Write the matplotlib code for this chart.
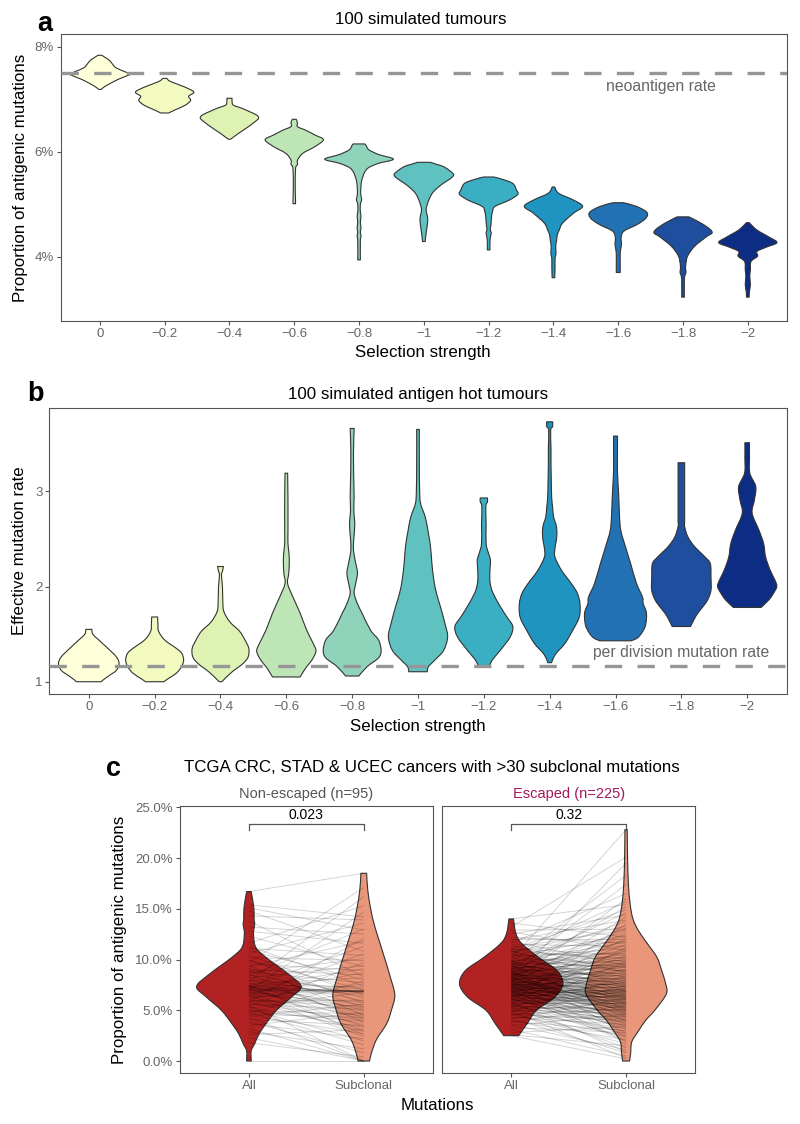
import numpy as np
import matplotlib
matplotlib.use("Agg")
import matplotlib.pyplot as plt
from matplotlib.collections import LineCollection
from matplotlib.path import Path
from matplotlib.patches import PathPatch

plt.rcParams["font.family"] = ["Liberation Sans", "DejaVu Sans"]

# --- shared categories ---------------------------------------------------
sel_labels = ["0", "\u22120.2", "\u22120.4", "\u22120.6", "\u22120.8", "\u22121",
              "\u22121.2", "\u22121.4", "\u22121.6", "\u22121.8", "\u22122"]
sel_colors = ["#FFFFD9", "#F3FABF", "#DEF2B4", "#BDE5B5", "#8FD3BB", "#5FC1C0",
              "#3AAEC3", "#1F94C0", "#2171B3", "#1F4E9E", "#0D2C84"]

# --- panel a: violin outlines (value %, half width in category units) ----
neo_rate = 7.5
a_prof_y = [
    [7.84, 7.80, 7.74, 7.68, 7.60, 7.53, 7.48, 7.44, 7.38, 7.31, 7.24, 7.19],
    [7.40, 7.34, 7.24, 7.14, 7.06, 6.98, 6.89, 6.81, 6.74],
    [7.02, 6.96, 6.89, 6.83, 6.76, 6.70, 6.64, 6.56, 6.46, 6.36, 6.27, 6.24],
    [6.62, 6.55, 6.48, 6.41, 6.32, 6.23, 6.10, 5.97, 5.84, 5.76, 5.68, 5.30, 5.05, 5.01],
    [6.15, 6.12, 6.04, 5.95, 5.86, 5.78, 5.70, 5.62, 5.53, 5.45, 5.35, 5.20, 5.09,
     5.00, 4.85, 4.77, 4.66, 4.55, 4.47, 4.39, 4.30, 3.94],
    [5.80, 5.76, 5.72, 5.64, 5.56, 5.48, 5.40, 5.30, 5.21, 5.09, 4.98, 4.89, 4.80,
     4.70, 4.58, 4.45, 4.29],
    [5.52, 5.48, 5.40, 5.27, 5.19, 5.08, 4.96, 4.86, 4.76, 4.60, 4.52, 4.45, 4.36,
     4.25, 4.13],
    [5.33, 5.21, 5.08, 4.96, 4.83, 4.64, 4.51, 4.42, 4.32, 4.20, 4.06, 3.97, 3.80, 3.60],
    [5.03, 4.96, 4.85, 4.74, 4.62, 4.49, 4.37, 4.24, 4.12, 4.03, 3.85, 3.70],
    [4.76, 4.68, 4.56, 4.46, 4.38, 4.20, 4.01, 3.82, 3.70, 3.62, 3.50, 3.23],
    [4.65, 4.51, 4.38, 4.27, 4.18, 4.10, 4.01, 3.91, 3.75, 3.62, 3.47, 3.34, 3.23],
]
a_prof_w = [
    [0.03, 0.08, 0.15, 0.19, 0.25, 0.38, 0.46, 0.40, 0.28, 0.17, 0.07, 0.02],
    [0.03, 0.09, 0.30, 0.45, 0.37, 0.40, 0.32, 0.18, 0.06],
    [0.04, 0.04, 0.06, 0.19, 0.32, 0.42, 0.45, 0.38, 0.27, 0.15, 0.05, 0.02],
    [0.03, 0.05, 0.05, 0.18, 0.32, 0.45, 0.32, 0.13, 0.05, 0.05, 0.02, 0.015, 0.02, 0.015],
    [0.09, 0.11, 0.15, 0.30, 0.53, 0.30, 0.15, 0.09, 0.06, 0.04, 0.03, 0.025, 0.04,
     0.02, 0.02, 0.03, 0.02, 0.03, 0.02, 0.03, 0.02, 0.02],
    [0.10, 0.20, 0.30, 0.40, 0.46, 0.40, 0.30, 0.20, 0.13, 0.08, 0.05, 0.035, 0.05,
     0.06, 0.05, 0.035, 0.02],
    [0.08, 0.20, 0.37, 0.43, 0.45, 0.32, 0.10, 0.06, 0.045, 0.035, 0.025, 0.04, 0.025,
     0.02, 0.02],
    [0.02, 0.08, 0.31, 0.45, 0.31, 0.14, 0.09, 0.06, 0.05, 0.035, 0.04, 0.025, 0.025, 0.02],
    [0.08, 0.28, 0.44, 0.43, 0.30, 0.09, 0.045, 0.05, 0.035, 0.03, 0.03, 0.03],
    [0.09, 0.22, 0.38, 0.45, 0.36, 0.18, 0.07, 0.04, 0.045, 0.025, 0.02, 0.02],
    [0.02, 0.14, 0.32, 0.45, 0.28, 0.14, 0.15, 0.05, 0.04, 0.03, 0.04, 0.025, 0.02],
]

# --- panel b: effective mutation rate violins ----------------------------
mut_rate = 1.16
b_prof_y = [
    [1.55, 1.50, 1.44, 1.35, 1.26, 1.19, 1.12, 1.07, 1.02, 1.00],
    [1.68, 1.60, 1.53, 1.44, 1.35, 1.30, 1.23, 1.16, 1.09, 1.03, 1.00],
    [2.21, 2.16, 2.12, 2.00, 1.85, 1.74, 1.63, 1.53, 1.44, 1.35, 1.26, 1.19, 1.10, 1.00],
    [3.19, 2.90, 2.60, 2.45, 2.35, 2.24, 2.13, 2.03, 1.89, 1.72, 1.54, 1.40, 1.32,
     1.23, 1.14, 1.05],
    [3.66, 3.40, 3.10, 2.94, 2.80, 2.65, 2.50, 2.38, 2.26, 2.14, 2.02, 1.93, 1.82,
     1.72, 1.54, 1.44, 1.33, 1.25, 1.16, 1.06],
    [3.65, 3.30, 3.00, 2.87, 2.73, 2.59, 2.42, 2.25, 2.07, 1.93, 1.79, 1.61, 1.47,
     1.33, 1.23, 1.16, 1.105],
    [2.93, 2.89, 2.84, 2.65, 2.45, 2.35, 2.28, 2.20, 2.10, 2.02, 1.93, 1.79, 1.68,
     1.58, 1.47, 1.33, 1.23, 1.16],
    [3.73, 3.68, 3.64, 3.45, 3.29, 3.10, 2.94, 2.83, 2.73, 2.64, 2.56, 2.48, 2.40,
     2.31, 2.17, 2.03, 1.93, 1.82, 1.68, 1.54, 1.40, 1.30, 1.24, 1.20],
    [3.58, 3.40, 3.20, 2.94, 2.75, 2.59, 2.42, 2.24, 2.03, 1.89, 1.82, 1.72, 1.58,
     1.47, 1.43],
    [3.30, 3.10, 2.90, 2.70, 2.63, 2.52, 2.42, 2.31, 2.24, 2.10, 1.96, 1.86, 1.79,
     1.72, 1.65, 1.58],
    [3.51, 3.35, 3.19, 3.05, 2.91, 2.77, 2.59, 2.45, 2.31, 2.17, 2.07, 2.00, 1.93,
     1.86, 1.78],
]
b_prof_w = [
    [0.045, 0.06, 0.15, 0.29, 0.42, 0.46, 0.42, 0.32, 0.22, 0.19],
    [0.045, 0.05, 0.06, 0.15, 0.33, 0.41, 0.44, 0.41, 0.33, 0.20, 0.14],
    [0.045, 0.03, 0.015, 0.03, 0.035, 0.05, 0.14, 0.29, 0.37, 0.43, 0.42, 0.34, 0.17, 0.02],
    [0.02, 0.025, 0.025, 0.025, 0.04, 0.045, 0.035, 0.02, 0.10, 0.21, 0.31, 0.41, 0.45,
     0.39, 0.29, 0.21],
    [0.03, 0.02, 0.025, 0.03, 0.025, 0.04, 0.025, 0.02, 0.05, 0.08, 0.05, 0.03, 0.08,
     0.15, 0.28, 0.40, 0.44, 0.40, 0.23, 0.10],
    [0.02, 0.02, 0.025, 0.04, 0.11, 0.15, 0.19, 0.21, 0.24, 0.28, 0.34, 0.41, 0.45,
     0.39, 0.26, 0.16, 0.14],
    [0.055, 0.055, 0.03, 0.035, 0.035, 0.07, 0.10, 0.095, 0.09, 0.10, 0.14, 0.25, 0.35,
     0.44, 0.40, 0.25, 0.13, 0.08],
    [0.045, 0.045, 0.015, 0.02, 0.02, 0.025, 0.03, 0.045, 0.06, 0.10, 0.11, 0.10, 0.08,
     0.08, 0.18, 0.33, 0.42, 0.46, 0.45, 0.35, 0.23, 0.10, 0.05, 0.03],
    [0.03, 0.03, 0.03, 0.05, 0.06, 0.08, 0.15, 0.23, 0.32, 0.41, 0.42, 0.47, 0.45,
     0.35, 0.24],
    [0.05, 0.05, 0.05, 0.05, 0.05, 0.10, 0.20, 0.36, 0.44, 0.45, 0.45, 0.40, 0.33,
     0.25, 0.19, 0.14],
    [0.035, 0.035, 0.04, 0.13, 0.11, 0.075, 0.18, 0.25, 0.28, 0.35, 0.42, 0.45, 0.40,
     0.33, 0.21],
]

# --- panel c: TCGA paired proportions (%) --------------------------------
groups = ["Non-escaped (n=95)", "Escaped (n=225)"]
group_colors = ["#555555", "#A5175B"]
mut_types = ["All", "Subclonal"]
type_colors = ["#B22222", "#E9967A"]
pvals = ["0.023", "0.32"]

ne_all = [0.0, 1.8, 2.3, 2.6, 2.9, 3.2, 3.5, 3.7, 3.9,
          4.1, 4.3, 4.4, 4.5, 4.6, 4.7, 4.8, 4.9,
          5.0, 5.1, 5.2, 5.3, 5.4, 5.5, 5.6, 5.7, 5.8, 5.9, 5.9,
          6.0, 6.1, 6.2, 6.3, 6.3, 6.4, 6.5, 6.5, 6.6, 6.7, 6.7, 6.8, 6.8, 6.9, 6.9, 7.0,
          7.0, 7.1, 7.1, 7.2, 7.2, 7.2, 7.3, 7.3, 7.3, 7.4, 7.4, 7.5, 7.5, 7.6, 7.7, 7.8, 7.9,
          8.0, 8.1, 8.2, 8.3, 8.4, 8.5, 8.6, 8.7, 8.8, 8.9, 9.0,
          9.1, 9.3, 9.4, 9.6, 9.7, 9.9, 10.0,
          10.2, 10.4, 10.6, 10.9, 11.1, 11.3, 11.6, 12.3, 12.8,
          13.2, 13.8, 14.3, 14.8, 15.1, 15.4, 16.7]
ne_sub = [0.0, 0.4, 0.0, 3.1, 1.2, 0.0, 4.8, 2.2, 0.8,
          3.5, 0.0, 5.6, 2.7, 4.3, 7.9, 1.6, 3.9,
          4.6, 2.0, 6.8, 3.3, 9.7, 0.0, 5.1, 4.0, 12.1, 2.9, 6.0,
          5.4, 3.6, 7.6, 4.4, 6.9, 10.6, 2.4, 5.8, 6.9, 3.0, 8.7, 4.9, 6.9, 14.7, 5.2, 6.9,
          6.9, 4.1, 6.8, 9.1, 6.9, 3.4, 5.5, 6.9, 11.3, 4.6, 6.8, 7.3, 2.6, 8.2, 5.0, 16.2, 6.4,
          7.1, 4.2, 9.4, 5.9, 13.0, 6.6, 3.8, 10.1, 7.7, 5.3, 8.5,
          6.2, 11.8, 4.5, 8.9, 17.1, 7.0, 5.7,
          9.9, 6.5, 13.6, 8.0, 10.4, 7.4, 15.3, 9.3, 11.6,
          12.5, 8.3, 13.9, 10.8, 12.9, 14.2, 18.5]

es_all = [2.5, 2.6, 2.8, 3.1, 3.3, 3.5, 3.6, 3.8, 3.9,
          4.0, 4.1, 4.2, 4.3, 4.3, 4.4, 4.5, 4.6, 4.6, 4.7, 4.8, 4.8, 4.9, 4.9,
          5.0, 5.0, 5.1, 5.1, 5.2, 5.2, 5.3, 5.3, 5.4, 5.4, 5.5, 5.5, 5.5, 5.6, 5.6,
          5.7, 5.7, 5.7, 5.8, 5.8, 5.8, 5.9, 5.9, 5.9, 6.0,
          6.0, 6.0, 6.1, 6.1, 6.1, 6.2, 6.2, 6.2, 6.3, 6.3, 6.3, 6.3, 6.4, 6.4, 6.4,
          6.5, 6.5, 6.5, 6.5, 6.6, 6.6, 6.6, 6.7, 6.7, 6.7, 6.7, 6.8, 6.8, 6.8, 6.8,
          6.9, 6.9, 6.9, 6.9, 7.0, 7.0, 7.0, 7.0,
          7.1, 7.1, 7.1, 7.1, 7.2, 7.2, 7.2, 7.2, 7.3, 7.3, 7.3, 7.3, 7.4, 7.4, 7.4,
          7.4, 7.4, 7.5, 7.5, 7.5, 7.5, 7.6, 7.6, 7.6, 7.6, 7.6, 7.7, 7.7, 7.7, 7.7,
          7.8, 7.8, 7.8, 7.8, 7.9, 7.9, 7.9, 7.9, 8.0, 8.0, 8.0, 8.0,
          8.1, 8.1, 8.1, 8.1, 8.2, 8.2, 8.2, 8.2, 8.3, 8.3, 8.3, 8.3, 8.4, 8.4, 8.4,
          8.4, 8.5, 8.5, 8.5, 8.5, 8.6, 8.6, 8.6, 8.6, 8.7, 8.7, 8.7, 8.7, 8.8, 8.8,
          8.8, 8.9, 8.9, 8.9, 8.9, 9.0, 9.0, 9.0,
          9.1, 9.1, 9.1, 9.2, 9.2, 9.2, 9.3, 9.3, 9.3, 9.4, 9.4, 9.4, 9.5, 9.5, 9.5,
          9.6, 9.6, 9.6, 9.7, 9.7, 9.7, 9.8, 9.8, 9.8, 9.9, 9.9, 10.0, 10.0,
          10.1, 10.2, 10.2, 10.3, 10.4, 10.4, 10.5, 10.6, 10.6, 10.7, 10.8, 10.8,
          10.9, 10.9, 11.0, 11.0,
          11.1, 11.2, 11.4, 11.5, 11.6, 11.8, 11.9, 12.0,
          12.2, 12.5, 12.7, 12.9, 13.2, 13.6, 14.0]
es_sub = [0.2, 1.5, 3.4, 0.5, 2.8, 4.6, 1.1, 5.5, 3.0,
          2.1, 6.2, 0.8, 4.4, 3.6, 7.5, 2.5, 5.1, 4.0, 1.7, 8.4, 3.2, 5.8, 0.3,
          4.7, 2.9, 6.6, 3.8, 5.3, 9.8, 4.1, 1.3, 6.9, 5.0, 3.5, 7.2, 4.5, 11.2, 2.3,
          5.7, 6.1, 3.9, 8.0, 4.9, 0.9, 6.4, 5.4, 13.5, 4.2,
          5.9, 7.8, 3.3, 6.5, 4.8, 9.1, 6.0, 2.6, 7.1, 5.6, 10.4, 4.3, 6.7, 8.6, 3.7,
          5.2, 7.4, 6.3, 12.1, 4.6, 5.8, 1.9, 6.8, 9.5, 5.1, 7.0, 4.0, 6.2, 8.3, 3.1,
          5.5, 10.9, 6.6, 4.4, 7.7, 2.0, 6.9, 5.3,
          6.4, 8.8, 5.0, 7.3, 4.7, 9.9, 6.1, 3.4, 7.6, 5.7, 11.5, 6.8, 8.1, 4.1, 6.5,
          14.2, 5.4, 7.9, 6.0, 9.3, 2.4, 6.7, 10.1, 5.9, 7.2, 4.9, 8.5, 6.3, 16.0,
          5.2, 7.5, 3.6, 6.9, 12.6, 5.6, 8.9, 7.0, 4.5, 19.5, 6.2, 9.6, 5.8,
          7.4, 5.5, 9.0, 6.6, 10.7, 4.8, 7.8, 8.2, 13.1, 6.1, 9.4, 5.3, 7.1, 11.9, 3.9,
          8.7, 6.4, 10.3, 7.6, 5.0, 15.2, 8.0, 6.9, 9.7, 4.3, 7.3, 12.3, 6.0, 8.4, 5.6,
          10.0, 17.4, 7.7, 6.3, 9.2, 2.7, 8.6, 11.0,
          8.3, 6.7, 10.5, 7.5, 9.5, 12.8, 5.1, 8.9, 11.4, 7.0, 14.6, 6.2, 9.9, 8.1, 4.6,
          10.8, 7.9, 13.8, 6.5, 9.3, 18.3, 8.5, 11.7, 7.2, 5.7, 10.2, 22.8, 9.0,
          9.6, 11.1, 7.7, 12.4, 8.8, 10.6, 15.7, 6.8, 9.2, 13.3, 10.1, 8.2, 11.8, 7.3,
          14.9, 9.8,
          10.4, 12.9, 8.7, 11.3, 16.5, 9.4, 13.9, 12.0,
          11.6, 14.4, 10.9, 13.0, 20.1, 12.2, 15.4]

# violin outlines for panel c: [group][type]
c_prof_y = [
    [[16.7, 15.1, 14.0, 13.5, 12.5, 11.2, 10.2, 8.6, 7.35, 6.3, 5.0, 3.7, 2.7, 1.7, 1.0, 0.0],
     [18.5, 16.8, 15.0, 13.5, 12.0, 10.2, 8.3, 6.5, 5.0, 3.7, 2.1, 0.8, 0.0]],
    [[14.0, 12.6, 11.6, 10.2, 8.9, 7.6, 6.3, 5.0, 3.7, 2.5],
     [22.8, 20.0, 17.5, 15.5, 14.0, 12.8, 11.5, 10.2, 8.9, 7.6, 6.6, 5.0, 4.0, 3.0,
      1.9, 0.8, 0.0]],
]
c_prof_w = [
    [[0.02, 0.043, 0.045, 0.05, 0.04, 0.06, 0.15, 0.34, 0.455, 0.37, 0.24, 0.15, 0.09,
      0.05, 0.02, 0.02],
     [0.025, 0.035, 0.06, 0.09, 0.13, 0.18, 0.23, 0.27, 0.24, 0.20, 0.11, 0.067, 0.05]],
    [[0.02, 0.04, 0.09, 0.24, 0.40, 0.45, 0.38, 0.22, 0.14, 0.065],
     [0.01, 0.013, 0.02, 0.035, 0.06, 0.11, 0.19, 0.27, 0.31, 0.345, 0.35, 0.25, 0.17,
      0.11, 0.05, 0.04, 0.03]],
]
c_pairs = [(ne_all, ne_sub), (es_all, es_sub)]

# --- style -----------------------------------------------------------------
W, H = 800, 1124
EDGE, FRAME, TICKTXT = "#333333", "#555555", "#666666"
DASH = "#969696"
LAB = 12.2   # axis titles / panel titles
TICK = 9.5

fig = plt.figure(figsize=(W / 100, H / 100), dpi=100)


def ax_px(left, top, right, bottom):
    return fig.add_axes([left / W, 1 - bottom / H, (right - left) / W, (bottom - top) / H])


def txt(x, y, s, **kw):
    kw.setdefault("ha", "center")
    kw.setdefault("va", "center")
    fig.text(x / W, 1 - y / H, s, **kw)


def frame(ax):
    for sp in ax.spines.values():
        sp.set_color(FRAME)
        sp.set_linewidth(0.8)
    ax.tick_params(length=3, width=0.8, color=FRAME, labelcolor=TICKTXT,
                   labelsize=TICK, pad=2)


def smooth_side(pts):
    """Catmull-Rom through the outline points -> bezier vertices/codes."""
    p = np.vstack([pts[0], pts, pts[-1]])
    verts, codes = [], []
    for i in range(1, len(p) - 2):
        c1 = p[i] + (p[i + 1] - p[i - 1]) / 6
        c2 = p[i + 1] - (p[i + 2] - p[i]) / 6
        verts += [c1, c2, p[i + 1]]
        codes += [Path.CURVE4] * 3
    return verts, codes


def violin(ax, xc, ys, ws, color, lw=0.8):
    ys, ws = np.asarray(ys, float), np.asarray(ws, float)
    right = np.column_stack([xc + ws, ys])
    left = np.column_stack([xc - ws, ys])[::-1]
    v1, c1 = smooth_side(right)
    v2, c2 = smooth_side(left)
    verts = [right[0]] + v1 + [left[0]] + v2 + [right[0]]
    codes = [Path.MOVETO] + c1 + [Path.LINETO] + c2 + [Path.CLOSEPOLY]
    ax.add_patch(PathPatch(Path(verts, codes), facecolor=color, edgecolor=EDGE,
                           lw=lw, zorder=2, joinstyle="round"))


def selection_panel(ax, prof_y, prof_w, ref, ylim, yticks, yticklabels):
    frame(ax)
    pos = np.arange(1, len(sel_labels) + 1)
    for x, py, pw, col in zip(pos, prof_y, prof_w, sel_colors):
        violin(ax, x, py, pw, col)
    ax.axhline(ref, color=DASH, lw=2.4, dashes=(5.2, 4.6), zorder=3)
    ax.set_xlim(0.4, len(sel_labels) + 0.6)
    ax.set_ylim(*ylim)
    ax.set_xticks(pos)
    ax.set_xticklabels(sel_labels)
    ax.set_yticks(yticks)
    ax.set_yticklabels(yticklabels)


# panel a
ax_a = ax_px(61, 34.3, 786.7, 321)
selection_panel(ax_a, a_prof_y, a_prof_w, neo_rate, (2.775, 8.24),
                [4, 6, 8], ["4%", "6%", "8%"])
txt(660.5, 87, "neoantigen rate", fontsize=11.3, color="#666666")
txt(45, 24, "a", fontsize=19.5, fontweight="bold")
txt(421, 20, "100 simulated tumours", fontsize=LAB)
txt(423, 353, "Selection strength", fontsize=LAB)
txt(21, 178, "Proportion of antigenic mutations", fontsize=LAB, rotation=90)

# panel b
ax_b = ax_px(49.3, 407.7, 786.7, 694.3)
selection_panel(ax_b, b_prof_y, b_prof_w, mut_rate, (0.868, 3.878),
                [1, 2, 3], ["1", "2", "3"])
txt(681, 653, "per division mutation rate", fontsize=11.3, color="#666666")
txt(35, 394, "b", fontsize=19.5, fontweight="bold")
txt(418, 394, "100 simulated antigen hot tumours", fontsize=LAB)
txt(418, 726, "Selection strength", fontsize=LAB)
txt(20, 551, "Effective mutation rate", fontsize=LAB, rotation=90)

# panel c
c_boxes = [(180, 806.3, 432.7, 1073), (442.3, 806.3, 695, 1073)]
for g, box in enumerate(c_boxes):
    ax = ax_px(*box)
    frame(ax)
    for t in range(2):
        violin(ax, t + 1, c_prof_y[g][t], c_prof_w[g][t], type_colors[t])
    va, vs = c_pairs[g]
    segs = [[(1, a), (2, s)] for a, s in zip(va, vs)]
    ax.add_collection(LineCollection(segs, colors="black", alpha=0.17,
                                     linewidths=0.7, zorder=3))
    ax.plot([1, 1, 2, 2], [22.8, 23.4, 23.4, 22.8], color=FRAME, lw=0.9, zorder=4)
    ax.text(1.5, 23.6, pvals[g], ha="center", va="bottom", fontsize=10)
    ax.set_xlim(0.4, 2.6)
    ax.set_ylim(-1.18, 25.1)
    ax.set_xticks([1, 2])
    ax.set_xticklabels(mut_types)
    if g == 0:
        ax.set_yticks([0, 5, 10, 15, 20, 25])
        ax.set_yticklabels([f"{v:.1f}%" for v in [0, 5, 10, 15, 20, 25]])
    else:
        ax.set_yticks([])
    txt((box[0] + box[2]) / 2, 794, groups[g], fontsize=10.5, color=group_colors[g])

txt(114, 769, "c", fontsize=19.5, fontweight="bold")
txt(432, 768, "TCGA CRC, STAD & UCEC cancers with >30 subclonal mutations", fontsize=LAB)
txt(437, 1105, "Mutations", fontsize=LAB)
txt(120, 940, "Proportion of antigenic mutations", fontsize=LAB, rotation=90)

fig.savefig("out.png", dpi=100)
